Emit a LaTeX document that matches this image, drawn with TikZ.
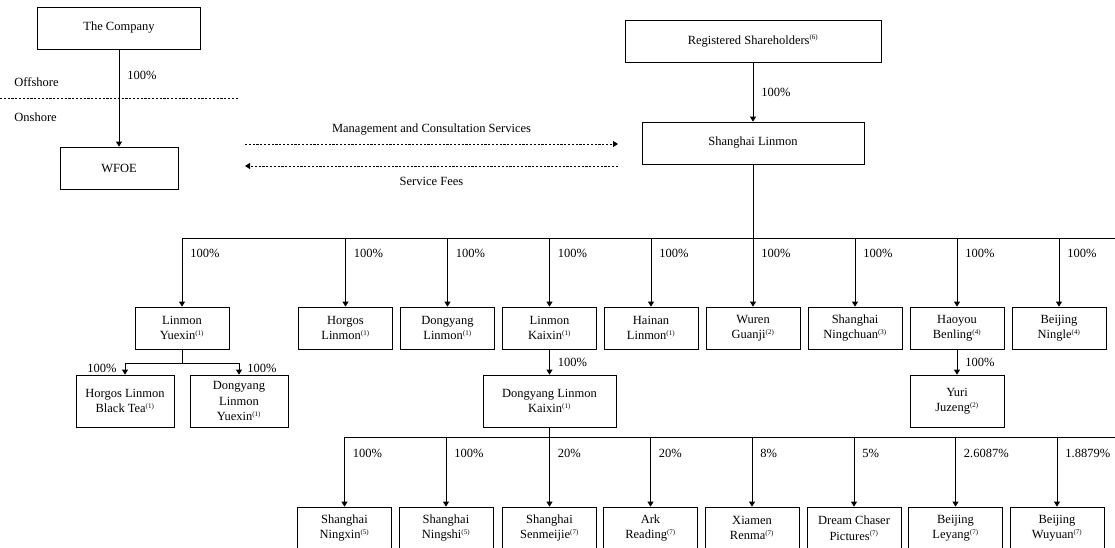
\documentclass[tikz,border=0pt]{standalone}
\usepackage{fontspec}
\setmainfont{Liberation Serif}
\usetikzlibrary{arrows.meta}
\usetikzlibrary{calc}
\usetikzlibrary{positioning}

\newcommand{\sn}[1]{\textsuperscript{\fontsize{7}{7}\selectfont(#1)}}

\begin{document}
\begin{tikzpicture}[x = 1pt, y = -1pt, line width = 0.8pt,
    font = \fontsize{12.5}{15.5}\selectfont,
    entity/.style = {draw, align = center, inner sep = 0pt, minimum width = 94pt, minimum height = 42pt},
    own/.style = {-{Triangle[length = 5pt, width = 6pt]}},
    pct/.style = {anchor = west, inner sep = 0pt, xshift = 8pt},
    dashes/.style = {dash pattern = on 2.2pt off 1.6pt},
    service/.style = {dashes, -{Triangle[length = 5pt, width = 6pt]}}]

    \clip[use as bounding box] (0,0) rectangle (1115,547);

    \node[entity, minimum width = 163pt] (company) at (119,28) {The Company};
    \node[entity, minimum width = 118pt] (wfoe) at (119,168) {WFOE};
    \node[entity, minimum width = 256pt] (shareholders) at (753,41) {Registered Shareholders\sn{6}};
    \node[entity, minimum width = 222pt] (linmon) at (753,143) {Shanghai Linmon};

    \draw[own] (company) -- (wfoe) node[pct, pos = 0.27] {100\%};
    \draw[own] (shareholders) -- (linmon) node[pct, pos = 0.5] {100\%};

    \draw[dashes] (0,98) -- (238,98);
    \node[anchor = west, inner sep = 0pt] (offshore) at (14,82) {Offshore};
    \node[anchor = west, inner sep = 0pt] (onshore) at (14,117) {Onshore};

    \coordinate (mcsL) at (245,144);
    \coordinate (mcsR) at (618,144);
    \coordinate (feeL) at (245,166);
    \coordinate (feeR) at (618,166);
    \draw[service] (mcsL) -- (mcsR) node[midway, above = 8pt, inner sep = 0pt] (mcs) {Management and Consultation Services};
    \draw[service] (feeR) -- (feeL) node[midway, below = 11pt, inner sep = 0pt] (fees) {Service Fees};

    % first level
    \coordinate (busA) at (753,238);
    \coordinate (busAend) at (1115,238);
    \draw (linmon) -- (busA);

    \foreach \NAME/\X/\TEXT in {yuexin/182/{Linmon\\Yuexin\sn{1}}, horgos/345.5/{Horgos\\Linmon\sn{1}},
        dongyang/447.5/{Dongyang\\Linmon\sn{1}}, kaixin/549.5/{Linmon\\Kaixin\sn{1}},
        hainan/651/{Hainan\\Linmon\sn{1}}, guanji/753/{Wuren\\Guanji\sn{2}},
        ningchuan/855/{Shanghai\\Ningchuan\sn{3}}, benling/957/{Haoyou\\Benling\sn{4}},
        ningle/1059/{Beijing\\Ningle\sn{4}}}{
        \node[entity] (\NAME) at (\X,328) {\TEXT};
        \draw[own] (\NAME.north |- busA) -- (\NAME) node[pct, pos = 0.22] {100\%};
    }
    \draw (yuexin.north |- busA) -- (busAend);

    % second level
    \node[entity, minimum width = 98pt, minimum height = 52pt] (blacktea) at (125,401) {Horgos Linmon\\Black Tea\sn{1}};
    \node[entity, minimum width = 98pt, minimum height = 52pt] (dyyuexin) at (239,401) {Dongyang\\Linmon\\Yuexin\sn{1}};
    \node[entity, minimum width = 133pt, minimum height = 52pt] (dykaixin) at (549.5,401) {Dongyang Linmon\\Kaixin\sn{1}};
    \node[entity, minimum height = 52pt] (juzeng) at (957,401) {Yuri\\Juzeng\sn{2}};

    \coordinate (busY) at (182,363);
    \draw (yuexin) -- (busY);
    \draw[own] (busY) -| (blacktea) node[anchor = east, inner sep = 0pt, xshift = -8pt, pos = 0.75] {100\%};
    \draw[own] (busY) -| (dyyuexin) node[pct, pos = 0.75] {100\%};
    \draw[own] (kaixin) -- (dykaixin) node[pct, pos = 0.5] {100\%};
    \draw[own] (benling) -- (juzeng) node[pct, pos = 0.5] {100\%};

    % third level
    \coordinate (busB) at (549.5,437);
    \coordinate (busBend) at (1115,437);
    \draw (dykaixin) -- (busB);

    \foreach \NAME/\X/\TEXT/\PCT in {ningxin/344.5/{Shanghai\\Ningxin\sn{5}}/100, ningshi/446/{Shanghai\\Ningshi\sn{5}}/100,
        senmeijie/549.5/{Shanghai\\Senmeijie\sn{7}}/20, ark/650.5/{Ark\\Reading\sn{7}}/20,
        renma/752/{Xiamen\\Renma\sn{7}}/8, chaser/854/{Dream Chaser\\Pictures\sn{7}}/5,
        leyang/955.5/{Beijing\\Leyang\sn{7}}/2.6087, wuyuan/1057/{Beijing\\Wuyuan\sn{7}}/1.8879}{
        \node[entity] (\NAME) at (\X,528) {\TEXT};
        \draw[own] (\NAME.north |- busB) -- (\NAME) node[pct, pos = 0.23] {\PCT\%};
    }
    \draw (ningxin.north |- busB) -- (busBend);

\end{tikzpicture}
\end{document}
